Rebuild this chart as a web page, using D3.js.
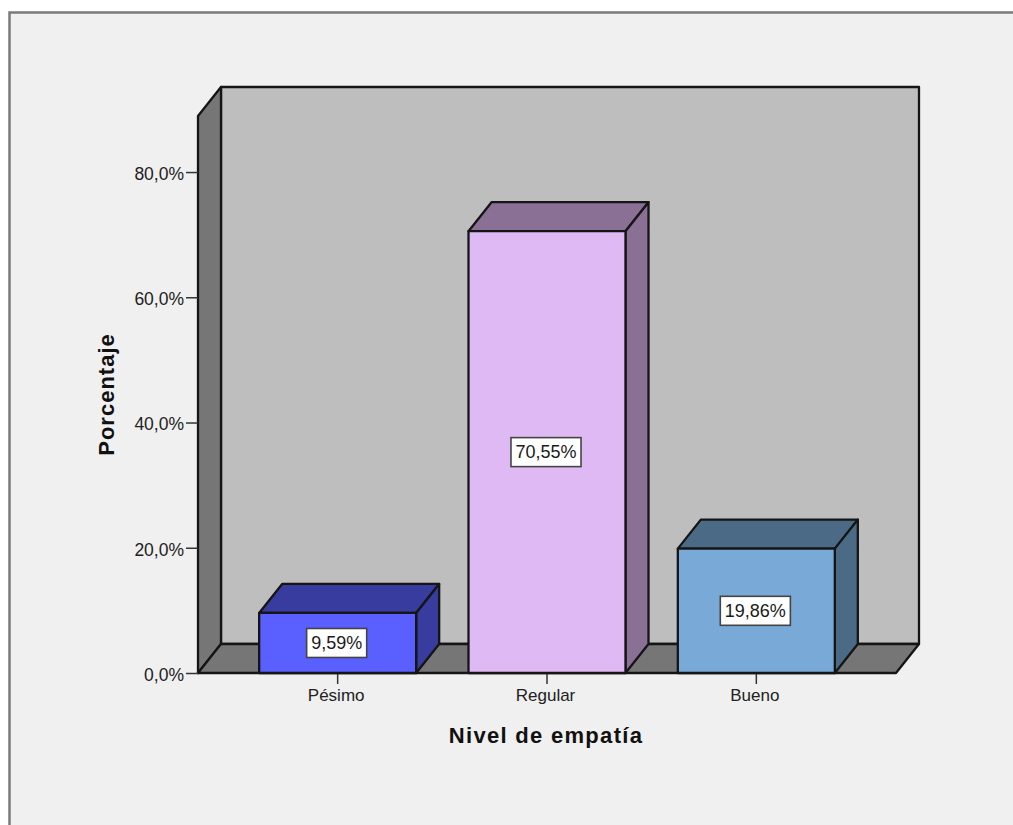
<!DOCTYPE html>
<html><head><meta charset="utf-8">
<script src="https://cdn.jsdelivr.net/npm/d3@7/dist/d3.min.js"></script>
<style>html,body{margin:0;padding:0;background:#fff}svg{display:block}</style>
</head><body><svg id="c" width="1013" height="825"></svg>
<script>
const categories = ["Pésimo", "Regular", "Bueno"];
const percentages = [9.59, 70.55, 19.86];
const valueLabels = ["9,59%", "70,55%", "19,86%"];
const frontColors = ["#5a5fff", "#dfb9f3", "#79a9d6"];
const sideColors = ["#383c9f", "#8b7096", "#4b6a85"];
const yTicks = [0, 20, 40, 60, 80];
const yMax = 88.95;

const svg = d3.select("#c");
const W = 1013, H = 825;
const depth = {x: 23, y: -29};
const y = d3.scaleLinear().domain([0, yMax]).range([673, 116]);
const x = d3.scaleBand().domain(categories).range([233, 861]).paddingInner(0.25).paddingOuter(0.125);
const plot = {l: 198, r: 896};
const ink = "#151515";
const sans = "Liberation Sans, Arial, sans-serif";
const fmt = v => d3.format(".1f")(v).replace(".", ",") + "%";

svg.append("rect").attr("x", 9.5).attr("y", 12.5).attr("width", W).attr("height", H).attr("fill", "#f0f0f0")
  .attr("stroke", "#7a7a7a").attr("stroke-width", 2.5);

const poly = (pts, fill) => svg.append("polygon").attr("points", pts.map(p => p.join(",")).join(" "))
  .attr("fill", fill).attr("stroke", ink).attr("stroke-width", 2.3).attr("stroke-linejoin", "round");

const y0 = y(0), yT = y(yMax), dx = depth.x, dy = depth.y;
poly([[plot.l + dx, yT + dy], [plot.r + dx, yT + dy], [plot.r + dx, y0 + dy], [plot.l + dx, y0 + dy]], "#bebebe");
poly([[plot.l, yT], [plot.l + dx, yT + dy], [plot.l + dx, y0 + dy], [plot.l, y0]], "#767676");
poly([[plot.l, y0], [plot.l + dx, y0 + dy], [plot.r + dx, y0 + dy], [plot.r, y0]], "#767676");

const yAxis = d3.axisLeft(y).tickValues(yTicks).tickFormat(fmt).tickSize(12).tickPadding(2);
const gy = svg.append("g").attr("transform", `translate(${plot.l},0)`).call(yAxis);
gy.select(".domain").remove();
gy.selectAll("line").attr("stroke", "#333").attr("stroke-width", 1.5);
gy.selectAll("text").attr("font-family", sans).attr("font-size", 17.5).attr("fill", "#222").attr("dy", ".42em");

const xAxis = d3.axisBottom(x).tickSize(11).tickPadding(5);
const gx = svg.append("g").attr("transform", `translate(0,${y0})`).call(xAxis);
gx.select(".domain").remove();
gx.selectAll("line").attr("stroke", "#333").attr("stroke-width", 1.5);
gx.selectAll("text").attr("font-family", sans).attr("font-size", 17).attr("fill", "#222").attr("dx", -1.5);

categories.forEach((c, i) => {
  const l = x(c), r = l + x.bandwidth(), t = y(percentages[i]);
  poly([[l, t], [l + dx, t + dy], [r + dx, t + dy], [r, t]], sideColors[i]);
  poly([[r, t], [r + dx, t + dy], [r + dx, y0 + dy], [r, y0]], sideColors[i]);
  poly([[l, t], [r, t], [r, y0], [l, y0]], frontColors[i]);
  const cx = (l + r) / 2 - 1, cy = (t + y0) / 2;
  const txt = svg.append("text").attr("x", cx).attr("y", cy + 6).attr("text-anchor", "middle")
    .attr("font-family", sans).attr("font-size", 18).attr("fill", "#1a1a1a").text(valueLabels[i]);
  const w = txt.node().getComputedTextLength() + 9;
  svg.insert("rect", () => txt.node()).attr("x", cx - w / 2).attr("y", cy - 14.5).attr("width", w).attr("height", 29)
    .attr("fill", "#fff").attr("stroke", "#444").attr("stroke-width", 1.6);
});

svg.append("text").attr("x", 546).attr("y", 743).attr("text-anchor", "middle")
  .attr("font-family", sans).attr("font-size", 22).attr("font-weight", "bold").attr("letter-spacing", 1.3).attr("fill", "#111").text("Nivel de empatía");
svg.append("text").attr("transform", "translate(114,394.5) rotate(-90)").attr("text-anchor", "middle")
  .attr("font-family", sans).attr("font-size", 22).attr("font-weight", "bold").attr("letter-spacing", 1).attr("fill", "#111").text("Porcentaje");
</script></body></html>
